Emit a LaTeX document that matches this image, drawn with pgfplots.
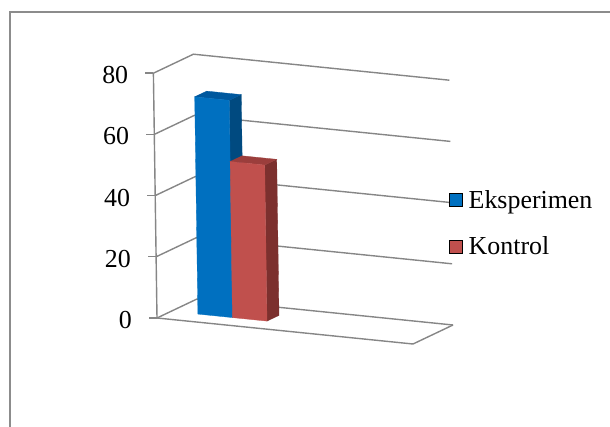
\documentclass[border=0pt]{standalone}
\usepackage{pgfplots}
\pgfplotsset{compat=1.18}
\usepackage{fontspec}
\setmainfont{Liberation Serif}
\definecolor{gridc}{RGB}{134,134,134}
\definecolor{framec}{RGB}{140,140,140}
\definecolor{bluef}{RGB}{0,112,192}
\definecolor{blues}{RGB}{0,74,128}
\definecolor{bluet}{RGB}{0,88,158}
\definecolor{redf}{RGB}{192,80,77}
\definecolor{reds}{RGB}{124,48,46}
\definecolor{redt}{RGB}{155,62,60}
\begin{document}
\begin{tikzpicture}
\begin{axis}[
  x={(256bp,-26bp)}, y={(40bp,19bp)}, z={(-0.045bp,3.06bp)},
  xmin=0, xmax=1, ymin=0, ymax=1, zmin=0, zmax=80,
  hide axis, clip=false,
  legend image code/.code={\fill[#1] (0bp,-6.5bp) rectangle (13bp,6.5bp);},
  legend cell align=left,
  legend style={draw=none, fill=none, inner sep=0bp,
    at={(axis description cs:0.987,0.417)}, anchor=west,
    font=\fontsize{26}{31}\selectfont,
    nodes={inner sep=0bp}, column sep=6bp, row sep=27bp},
]
\coordinate (O) at (axis cs:0,0,0);
% walls and gridlines
\pgfplotsinvokeforeach{0,20,40,60,80}{
  \addplot3[gridc, line width=1.4bp, forget plot] coordinates {(0,0,#1) (0,1,#1) (1,1,#1)};
  \draw[gridc, line width=1.4bp] (axis cs:0,0,#1) -- ++(-8bp,0bp);
  \node[anchor=east, inner sep=0bp, font=\fontsize{26}{31}\selectfont]
    at ([xshift=-25bp, yshift=-2bp]axis cs:0,0,#1) {#1};
}
\addplot3[gridc, line width=1.4bp, forget plot] coordinates {(0,0,0) (1,0,0) (1,1,0)};
\addplot3[gridc, line width=1.4bp, forget plot] coordinates {(0,0,0) (0,0,80)};
% Eksperimen bar (71)
\addplot3[fill=blues, draw=blues, line width=0.3bp, forget plot] coordinates {(0.24,0.35,0) (0.24,0.65,0) (0.24,0.65,71) (0.24,0.35,71)} -- cycle;
\addplot3[fill=bluet, draw=bluet, line width=0.3bp, forget plot] coordinates {(0.105,0.35,71) (0.24,0.35,71) (0.24,0.65,71) (0.105,0.65,71)} -- cycle;
\addplot3[fill=bluef, draw=bluef, line width=0.3bp, forget plot] coordinates {(0.105,0.35,0) (0.24,0.35,0) (0.24,0.35,71) (0.105,0.35,71)} -- cycle;
% Kontrol bar (51)
\addplot3[fill=reds, draw=reds, line width=0.3bp, forget plot] coordinates {(0.375,0.35,0) (0.375,0.65,0) (0.375,0.65,51) (0.375,0.35,51)} -- cycle;
\addplot3[fill=redt, draw=redt, line width=0.3bp, forget plot] coordinates {(0.24,0.35,51) (0.375,0.35,51) (0.375,0.65,51) (0.24,0.65,51)} -- cycle;
\addplot3[fill=redf, draw=redf, line width=0.3bp, forget plot] coordinates {(0.24,0.35,0) (0.375,0.35,0) (0.375,0.35,51) (0.24,0.35,51)} -- cycle;
\addlegendimage{fill=bluef}
\addlegendentry{Eksperimen}
\addlegendimage{fill=redf}
\addlegendentry{Kontrol}
\end{axis}
\draw[framec, line width=1.5bp] ([shift={(-147bp,-109bp)}]O) -- ([shift={(-147bp,306bp)}]O) -- ([shift={(453bp,306bp)}]O);
\pgfresetboundingbox
\path[use as bounding box] ([shift={(-157bp,-109bp)}]O) rectangle ([shift={(453bp,318bp)}]O);
\end{tikzpicture}
\end{document}
